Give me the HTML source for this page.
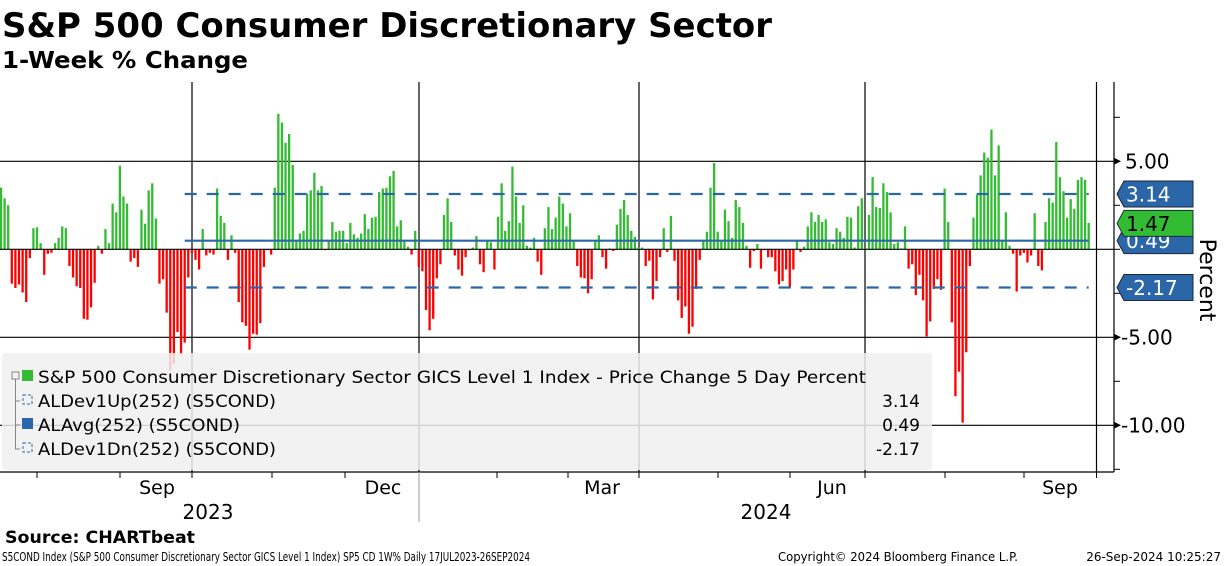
<!DOCTYPE html>
<html><head><meta charset="utf-8"><style>
html,body{margin:0;padding:0;background:#fff;}
svg{display:block;font-family:"DejaVu Sans","Liberation Sans",sans-serif;}
</style></head><body>
<svg id="chart" width="1224" height="566" viewBox="0 0 1224 566">
<text x="2" y="37" font-size="34" font-weight="bold" textLength="770" lengthAdjust="spacingAndGlyphs">S&amp;P 500 Consumer Discretionary Sector</text>
<text x="2" y="68" font-size="23" font-weight="bold" textLength="246" lengthAdjust="spacingAndGlyphs">1-Week % Change</text>
<g id="grid"></g>
<g id="bars"></g>
<g id="overlay"></g>
</svg>
<script>
const NS="http://www.w3.org/2000/svg";
const values=[3.5,2.9,2.5,-1.95,-2.2,-2.0,-2.45,-3.0,-0.5,1.2,
1.25,0.35,-1.45,-0.25,-0.2,0.35,0.65,1.3,1.2,-0.95,
-1.6,-2.1,-2.2,-3.95,-4.0,-3.3,-1.9,0.2,-0.25,1.15,
0.35,2.6,2.1,4.75,3.0,2.6,-0.7,-0.5,-1.0,2.25,
1.45,3.35,3.75,1.75,-1.95,-1.7,-3.6,-6.9,-6.5,-4.7,
-6.0,-5.3,-1.6,-0.2,-0.6,-1.15,1.15,-0.35,-0.2,-0.3,
3.45,1.9,1.5,-0.6,0.8,-0.2,-3.0,-4.15,-4.35,-5.7,
-4.8,-4.85,-4.2,-1.0,-0.05,-0.3,3.5,7.7,
7.2,6.05,6.55,4.8,0.5,0.9,1.05,3.15,3.35,4.35,3.35,3.6,-0.05,0.5,1.55,1.0,1.05,1.05,0.35,1.5,0.85,0.65,0.9,2.0,1.15,1.8,1.85,3.25,3.45,3.5,4.15,4.45,1.3,1.65,0.5,0.15,-0.3,1.05,-1.0,-1.25,-3.45,-4.6,-3.95,-1.65,-0.85,1.95,2.9,1.55,-0.35,-1.15,-1.5,-0.45,-0.05,0.1,0.75,-0.85,-1.3,0.5,0.4,-1.15,1.85,3.75,1.05,1.6,4.7,3.0,1.5,2.5,0.2,0.1,0.65,-0.7,-1.45,1.2,2.4,
1.15,1.8,3.0,2.6,1.3,2.05,0.5,-0.95,-1.6,-1.65,-2.5,-1.7,0.5,0.8,-0.45,-1.1,0.05,-0.1,1.4,2.3,2.8,1.95,1.05,0.7,0.1,0.1,-0.95,-0.65,-2.85,-1.8,-0.45,1.2,-0.15,1.9,-0.65,-2.9,-3.9,-3.25,-4.8,-4.4,-2.25,-0.6,0.5,1.0,3.5,4.9,1.0,0.5,2.25,1.6,0.65,2.8,2.4,1.5,0.2,-1.05,-0.1,0.3,-1.1,-0.05,-0.45,-0.45,-1.25,-2.0,-1.8,-1.15,-2.2,-1.15,0.5,-0.15,0.15,1.3,2.1,1.55,1.95,
1.55,1.7,0.4,0.3,1.2,1.0,0.65,1.85,1.8,0.1,2.45,2.9,0.05,1.95,4.1,2.4,2.35,3.75,3.25,2.1,0.3,0.4,0.05,1.3,-1.1,-0.85,-2.6,-1.45,-2.9,-4.95,-4.1,-2.25,-1.7,-2.3,3.45,1.55,-4.15,-8.35,-6.95,-9.85,-5.85,-0.95,1.8,3.1,4.2,5.5,5.2,6.8,4.2,5.9,0.5,2.1,0.2,-0.25,-2.4,-0.35,-0.2,-0.75,-0.35,2.05,-0.95,-1.2,1.55,2.9,2.65,6.1,4.1,3.3,1.8,2.85,2.3,3.95,4.1,3.95,1.5];
const yTicks=[5,-5,-10];
const yTickLabels=["5.00","-5.00","-10.00"];
const devUp=3.14, avg=0.49, devDn=-2.17, last=1.47;
const monthLabels=["Sep","Dec","Mar","Jun","Sep"];
const yearLabels=["2023","2024"];

const X0=1, X1=1088.7, ZERO=249.3, PX=17.6;
function xScale(i){return X0+i*(X1-X0)/(values.length-1);}
function yScale(v){return ZERO-v*PX;}
function mk(tag,attrs,parent){const e=document.createElementNS(NS,tag);for(const k in attrs)e.setAttribute(k,attrs[k]);parent.appendChild(e);return e;}
const grid=document.getElementById('grid'),bars=document.getElementById('bars'),ov=document.getElementById('overlay');

// grid
yTicks.forEach((t,k)=>{
  const l=mk('line',{x1:0,x2:1114,y1:yScale(t),y2:yScale(t),stroke:'#000','stroke-width':1.2},grid);
  
  
});
[192,419,639,865,1096.5].forEach(x=>{
  const l=mk('line',{x1:x,x2:x,y1:82,y2:472,stroke:'#000','stroke-width':1.2},grid);
  
  
});
// bars
values.forEach((v,i)=>{
  const y=yScale(Math.max(v,0)),h=Math.abs(v)*PX;
  const r=mk('rect',{x:xScale(i)-1.15,y:y,width:2.3,height:Math.max(h,0.8),fill:v>=0?'#33bb33':'#ff0000'},bars);
  
  
});
// zero line
const z=mk('line',{x1:0,x2:1114,y1:ZERO,y2:ZERO,stroke:'#000','stroke-width':1.2},ov);


// bands
const sx=xScale(values.length-252), ex=xScale(values.length-1);
[[devUp,'6 5','dev-up-line'],[avg,'','avg-line'],[devDn,'6 5','dev-down-line']].forEach(d=>{
  const l=mk('line',{x1:sx,x2:ex,y1:yScale(d[0]),y2:yScale(d[0]),stroke:'#2a66a8','stroke-width':2.2},ov);
  if(d[1])l.setAttribute('stroke-dasharray','12 10');
  
  
});
// frame
[[1114,82,1114,472],[0,472,1114,472]].forEach(a=>{
  const l=mk('line',{x1:a[0],y1:a[1],x2:a[2],y2:a[3],stroke:'#000','stroke-width':1.2},ov);
  
  
});
// right axis minor ticks
for(let v=7.5;v>=-12.5;v-=2.5){
  const l=mk('line',{x1:1114,x2:1120,y1:yScale(v),y2:yScale(v),stroke:'#000','stroke-width':1},ov);
  
  
}
// labels
yTicks.forEach((t,k)=>{
  const y=yScale(t);
  const p=mk('path',{d:`M1114 ${y-3.5} L1121 ${y} L1114 ${y+3.5}Z`,fill:'#000'},ov);
  
  
  const tx=mk('text',{x:t>0?1125:1121,y:y+7,'font-size':20},ov);
  tx.textContent=yTickLabels[k];
  
  
});
// tags
function tag(v,fill,txtColor,name,txt){
  const c=yScale(v);
  const p=mk('path',{d:`M1117 ${c} L1124 ${c-13} L1193 ${c-13} L1193 ${c+13} L1124 ${c+13}Z`,fill:fill,stroke:'#1a2a3a','stroke-width':1},ov);
  
  
  const t=mk('text',{x:1126,y:c+7.5,'font-size':20,fill:txtColor},ov);
  t.textContent=txt;
  
  
}
tag(avg,'#2a66a8','#fff','avg-tag','0.49');
tag(devUp,'#2a66a8','#fff','dev-up-tag','3.14');
tag(last,'#33bb33','#000','last-value-tag','1.47');
tag(devDn,'#2a66a8','#fff','dev-down-tag','-2.17');
// x ticks
[37,120,192,272,345,419,497,568,639,718,790,865,945,1024,1096.5].forEach(x=>{
  const l=mk('line',{x1:x,x2:x,y1:472,y2:478,stroke:'#000','stroke-width':1},ov);
  
  
});
[157,383,602,832,1060].forEach((x,k)=>{
  const t=mk('text',{x:x,y:494,'font-size':19,'text-anchor':'middle'},ov);
  t.textContent=monthLabels[k];
  
  
});
[208,766].forEach((x,k)=>{
  const t=mk('text',{x:x,y:519,'font-size':20,'text-anchor':'middle'},ov);
  t.textContent=yearLabels[k];
  
  
});
</script>
<svg style="position:absolute;left:0;top:0" width="1224" height="566">
<line x1="419" y1="472" x2="419" y2="522" stroke="#999" stroke-width="1"/>
<text transform="translate(1200,280) rotate(90)" font-size="22" text-anchor="middle" font-family="DejaVu Sans,sans-serif">Percent</text>
<g font-family="DejaVu Sans,sans-serif" font-size="17">
<rect x="2" y="353" width="930" height="117" rx="3" fill="#f0f0f0" fill-opacity="0.85"/>
<rect x="12" y="372" width="7" height="7" fill="none" stroke="#888"/>
<path d="M15.5 379 V449 H20 M15.5 401 H20 M15.5 425 H20" stroke="#888" fill="none"/>
<rect x="22" y="370" width="11" height="11" fill="#33bb33"/>
<rect x="23" y="395" width="9" height="9" fill="none" stroke="#2a66a8" stroke-dasharray="3 2"/>
<rect x="22" y="418" width="11" height="11" fill="#2a66a8"/>
<rect x="23" y="443" width="9" height="9" fill="none" stroke="#2a66a8" stroke-dasharray="3 2"/>
<text x="38" y="383" textLength="828" lengthAdjust="spacingAndGlyphs">S&amp;P 500 Consumer Discretionary Sector GICS Level 1 Index - Price Change 5 Day Percent</text>
<text x="38" y="407" textLength="238" lengthAdjust="spacingAndGlyphs">ALDev1Up(252) (S5COND)</text>
<text x="38" y="431" textLength="202" lengthAdjust="spacingAndGlyphs">ALAvg(252) (S5COND)</text>
<text x="38" y="455" textLength="238" lengthAdjust="spacingAndGlyphs">ALDev1Dn(252) (S5COND)</text>
<text x="920" y="407" text-anchor="end">3.14</text>
<text x="920" y="431" text-anchor="end">0.49</text>
<text x="920" y="455" text-anchor="end">-2.17</text>
</g>
<text x="5" y="543" font-size="17" font-weight="bold" font-family="DejaVu Sans,sans-serif" textLength="190" lengthAdjust="spacingAndGlyphs">Source: CHARTbeat</text>
<g font-family="DejaVu Sans,sans-serif" font-size="12">
<text x="2" y="561" textLength="528" lengthAdjust="spacingAndGlyphs">S5COND Index (S&amp;P 500 Consumer Discretionary Sector GICS Level 1 Index) SP5 CD 1W%  Daily 17JUL2023-26SEP2024</text>
<text x="778" y="561" textLength="240" lengthAdjust="spacingAndGlyphs">Copyright© 2024 Bloomberg Finance L.P.</text>
<text x="1221" y="561" text-anchor="end">26-Sep-2024 10:25:27</text>
</g>
</svg>
</body></html>
